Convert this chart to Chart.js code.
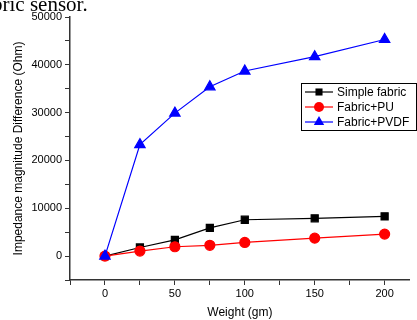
<!DOCTYPE html>
<html>
<head>
<meta charset="utf-8">
<script src="https://cdn.jsdelivr.net/npm/chart.js@4/dist/chart.umd.min.js"></script>
<style>
    html, body { margin: 0; padding: 0; background: #fff; }
    #wrap { position: relative; width: 417px; height: 320px; overflow: hidden; }
    #caption {
        position: absolute; left: -8px; top: -6px;
        font: 21px/21px "Liberation Serif", "Times New Roman", serif;
        color: #000; white-space: nowrap;
    }
</style>
</head>
<body>
<div id="wrap">
    <canvas id="sensorChart" width="417" height="320"></canvas>
    <div id="caption">bric sensor.</div>
</div>
<script>
const weights = [0, 25, 50, 75, 100, 150, 200];
const simpleFabric = [0, 1800, 3400, 5900, 7600, 7900, 8300];
const fabricPU = [0, 1050, 1950, 2250, 2850, 3750, 4600];
const fabricPVDF = [0, 23300, 29900, 35400, 38700, 41700, 45300];
const seriesNames = ['Simple fabric', 'Fabric+PU', 'Fabric+PVDF'];
const xTicks = [-25, 0, 25, 50, 75, 100, 125, 150, 175, 200];

const axisColor = '#333';
const tickFont = { family: 'Arial, "Liberation Sans", sans-serif', size: 11 };

function points(ys) {
    return weights.map((w, i) => ({ x: w, y: ys[i] }));
}

// legend box drawn inside the plot, top right
const boxLegend = {
    id: 'boxLegend',
    afterDatasetsDraw(chart) {
        const ctx = chart.ctx;
        const x0 = 301, y0 = 83, w = 115, h = 47;
        ctx.save();
        ctx.fillStyle = '#fff';
        ctx.fillRect(x0, y0, w, h);
        ctx.strokeStyle = '#000';
        ctx.lineWidth = 1;
        ctx.strokeRect(x0 + 0.5, y0 + 0.5, w, h);
        chart.data.datasets.forEach((ds, i) => {
            const y = y0 + 9 + i * 15;
            ctx.strokeStyle = ds.borderColor;
            ctx.lineWidth = 1.2;
            ctx.beginPath();
            ctx.moveTo(x0 + 4, y);
            ctx.lineTo(x0 + 32, y);
            ctx.stroke();
            ctx.fillStyle = ds.pointBackgroundColor;
            Chart.helpers.drawPoint(ctx, {
                pointStyle: ds.pointStyle, radius: ds.pointRadius, rotation: 0, borderWidth: 0
            }, x0 + 18, y);
            ctx.fillStyle = '#000';
            ctx.font = '12px Arial, "Liberation Sans", sans-serif';
            ctx.textBaseline = 'middle';
            ctx.fillText(ds.label, x0 + 36, y + 0.5);
        });
        ctx.restore();
    }
};

const ctx = document.getElementById('sensorChart').getContext('2d');
new Chart(ctx, {
    type: 'line',
    data: {
        datasets: [
            {
                label: seriesNames[0], data: points(simpleFabric),
                borderColor: '#000', backgroundColor: '#000', pointBackgroundColor: '#000',
                pointStyle: 'rect', pointRadius: 5, borderWidth: 1.2, order: 2
            },
            {
                label: seriesNames[1], data: points(fabricPU),
                borderColor: '#ff0000', backgroundColor: '#ff0000', pointBackgroundColor: '#ff0000',
                pointStyle: 'circle', pointRadius: 5, borderWidth: 1.2, order: 1
            },
            {
                label: seriesNames[2], data: points(fabricPVDF),
                borderColor: '#0000ff', backgroundColor: '#0000ff', pointBackgroundColor: '#0000ff',
                pointStyle: 'triangle', pointRadius: 6, borderWidth: 1.2, order: 0
            }
        ]
    },
    options: {
        responsive: false,
        animation: false,
        layout: { padding: { top: 17, right: 0, left: 0, bottom: 0 } },
        elements: { line: { tension: 0 }, point: { borderWidth: 0 } },
        plugins: {
            legend: { display: false },
            tooltip: { enabled: false }
        },
        scales: {
            x: {
                type: 'linear',
                min: -25,
                max: 218,
                afterBuildTicks: (scale) => {
                    scale.ticks = xTicks.map(v => ({ value: v }));
                },
                afterFit: (scale) => { scale.height = 40; },
                ticks: {
                    autoSkip: false,
                    maxRotation: 0,
                    color: '#000',
                    font: tickFont,
                    padding: 2,
                    callback: (v) => (v >= 0 && v % 50 === 0) ? v : ''
                },
                grid: {
                    drawOnChartArea: false,
                    tickLength: 5,
                    color: axisColor
                },
                border: { color: axisColor, width: 1.5 },
                title: {
                    display: true,
                    text: 'Weight (gm)',
                    color: '#000',
                    font: { family: 'Arial, "Liberation Sans", sans-serif', size: 12 },
                    padding: { top: 0, bottom: 0 }
                }
            },
            y: {
                min: -5000,
                max: 50000,
                afterFit: (scale) => { scale.width = 70; },
                ticks: {
                    stepSize: 5000,
                    autoSkip: false,
                    color: '#000',
                    font: tickFont,
                    padding: 3,
                    callback: (v) => (v >= 0 && v % 10000 === 0) ? v : ''
                },
                grid: {
                    drawOnChartArea: false,
                    tickLength: 5,
                    color: axisColor
                },
                border: { color: axisColor, width: 1.5 },
                title: {
                    display: true,
                    text: 'Impedance magnitude Difference (Ohm)',
                    color: '#000',
                    font: { family: 'Arial, "Liberation Sans", sans-serif', size: 12 },
                    padding: { top: 11, bottom: 2 }
                }
            }
        }
    },
    plugins: [boxLegend]
});
</script>
</body>
</html>
